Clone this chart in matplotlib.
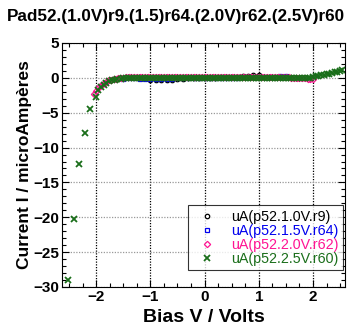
import matplotlib
matplotlib.use("Agg")
import matplotlib.pyplot as plt
from matplotlib.ticker import MultipleLocator

plt.rcParams['font.family'] = ['Liberation Sans', 'DejaVu Sans']

title = "Pad52.(1.0V)r9.(1.5)r64.(2.0V)r62.(2.5V)r60"

# r9 sweep, 1.0 V
v_r9 = [-1.0, -0.9, -0.8, -0.7, -0.6, -0.5, -0.4, -0.3, -0.2, -0.1, 0.0,
        0.1, 0.2, 0.3, 0.4, 0.5, 0.6, 0.7, 0.8, 0.9, 1.0]
i_r9 = [-0.25, -0.3, -0.3, -0.28, -0.25, -0.2, -0.1, -0.05, 0.0, 0.0, 0.0,
        0.05, 0.05, 0.1, 0.1, 0.1, 0.15, 0.2, 0.3, 0.4, 0.45]

# r64 sweep, 1.5 V
v_r64 = [-1.5, -1.4, -1.3, -1.2, -1.1, -1.0, -0.9, -0.8, -0.7, -0.6, -0.5,
         -0.4, -0.3, -0.2, -0.1, 0.0, 0.1, 0.2, 0.3, 0.4, 0.5, 0.6, 0.7,
         0.8, 0.9, 1.0, 1.1, 1.2, 1.3, 1.4, 1.5]
i_r64 = [-0.1, -0.05, -0.05, -0.1, -0.15, -0.2, -0.2, -0.15, -0.1, -0.1, -0.05,
         0.0, 0.0, 0.0, 0.0, 0.0, 0.0, 0.0, 0.05, 0.05, 0.05, 0.05, 0.1,
         0.1, 0.1, 0.1, 0.1, 0.15, 0.15, 0.2, 0.2]

# r62 sweep, 2.0 V
v_r62 = [-2.04, -2.0, -1.96, -1.92, -1.88, -1.84, -1.8, -1.76, -1.72, -1.68,
         -1.64, -1.6, -1.55, -1.5, -1.45, -1.4, -1.35, -1.3, -1.25, -1.2,
         -1.15, -1.1, -1.05, -1.0, -0.95, -0.9, -0.85, -0.8, -0.75, -0.7,
         -0.65, -0.6, -0.55, -0.5, -0.45, -0.4, -0.35, -0.3, -0.25, -0.2,
         -0.15, -0.1, -0.05, 0.0, 0.05, 0.1, 0.15, 0.2, 0.25, 0.3, 0.35,
         0.4, 0.45, 0.5, 0.55, 0.6, 0.65, 0.7, 0.75, 0.8, 0.85, 0.9, 0.95,
         1.0, 1.05, 1.1, 1.15, 1.2, 1.25, 1.3, 1.35, 1.4, 1.45, 1.5, 1.55,
         1.6, 1.65, 1.7, 1.75, 1.8, 1.85, 1.9, 1.95, 2.0]
i_r62 = [-2.3, -1.9, -1.5, -1.2, -0.9, -0.7, -0.5, -0.35, -0.25, -0.15,
         -0.1, -0.05, 0.0, 0.05, 0.1, 0.1, 0.1, 0.1, 0.1, 0.1,
         0.1, 0.1, 0.1, 0.1, 0.1, 0.1, 0.1, 0.1, 0.1, 0.1,
         0.1, 0.1, 0.1, 0.1, 0.1, 0.1, 0.1, 0.1, 0.1, 0.1,
         0.1, 0.1, 0.1, 0.1, 0.1, 0.1, 0.1, 0.1, 0.1, 0.1, 0.1,
         0.1, 0.1, 0.1, 0.1, 0.1, 0.1, 0.1, 0.1, 0.1, 0.1, 0.1, 0.1,
         0.1, 0.1, 0.1, 0.1, 0.1, 0.1, 0.1, 0.1, 0.1, 0.1, 0.1, 0.1,
         0.05, 0.05, 0.05, 0.0, 0.0, -0.05, -0.1, -0.1, -0.15]

# r60 sweep, 2.5 V
v_r60 = [-2.52, -2.41, -2.31, -2.21, -2.11, -2.01, -1.96, -1.91, -1.86,
         -1.81, -1.76, -1.71, -1.66, -1.61, -1.55, -1.5, -1.45, -1.4, -1.35,
         -1.3, -1.25, -1.2, -1.15, -1.1, -1.05, -1.0, -0.95, -0.9, -0.85,
         -0.8, -0.75, -0.7, -0.65, -0.6, -0.55, -0.5, -0.45, -0.4, -0.35,
         -0.3, -0.25, -0.2, -0.15, -0.1, -0.05, 0.0, 0.05, 0.1, 0.15, 0.2,
         0.25, 0.3, 0.35, 0.4, 0.45, 0.5, 0.55, 0.6, 0.65, 0.7, 0.75, 0.8,
         0.85, 0.9, 0.95, 1.0, 1.05, 1.1, 1.15, 1.2, 1.25, 1.3, 1.35, 1.4,
         1.45, 1.5, 1.55, 1.6, 1.65, 1.7, 1.75, 1.8, 1.85, 1.9, 1.95, 2.0,
         2.05, 2.1, 2.15, 2.2, 2.25, 2.3, 2.35, 2.4, 2.45, 2.5, 2.53]
i_r60 = [-29.0, -20.2, -12.3, -7.9, -4.5, -2.7, -1.8, -1.3, -1.0,
         -0.7, -0.5, -0.35, -0.25, -0.15, -0.1, -0.05, 0.0, 0.0, 0.0,
         0.0, 0.0, 0.0, 0.0, 0.0, 0.0, 0.0, 0.0, 0.0, 0.0,
         0.0, 0.0, 0.0, 0.0, 0.0, 0.0, 0.0, 0.0, 0.0, 0.0,
         0.0, 0.0, 0.0, 0.0, 0.0, 0.0, 0.0, 0.0, 0.0, 0.0, 0.0,
         0.0, 0.0, 0.0, 0.0, 0.0, 0.0, 0.0, 0.0, 0.0, 0.0, 0.0, 0.0,
         0.0, 0.0, 0.0, 0.0, 0.0, 0.0, 0.0, 0.0, 0.0, 0.0, 0.0, 0.0,
         0.0, 0.0, 0.0, 0.0, 0.0, 0.0, 0.0, 0.0, 0.0, 0.0, 0.05, 0.1,
         0.2, 0.3, 0.35, 0.45, 0.5, 0.6, 0.7, 0.8, 0.9, 1.0, 1.1]

series = [
    (v_r9, i_r9, 'o', 'black', 'uA(p52.1.0V.r9)'),
    (v_r64, i_r64, 's', '#0000ee', 'uA(p52.1.5V.r64)'),
    (v_r62, i_r62, 'D', '#ff1493', 'uA(p52.2.0V.r62)'),
    (v_r60, i_r60, 'x', '#1a6e1a', 'uA(p52.2.5V.r60)'),
]

fig = plt.figure(figsize=(3.51, 3.31), dpi=100)
ax = fig.add_axes([62 / 351, 1 - 287 / 331, 283 / 351, 244 / 331])

for v, i, m, c, lab in series:
    if m == 'x':
        ax.plot(v, i, linestyle='none', marker=m, color=c, markersize=4,
                markeredgewidth=1.3, label=lab)
    else:
        ax.plot(v, i, linestyle='none', marker=m, markerfacecolor='none',
                markeredgecolor=c, markersize=3.2, markeredgewidth=0.9, label=lab)

ax.set_xlim(-2.63, 2.59)
ax.set_ylim(-30, 5)
ax.xaxis.set_major_locator(MultipleLocator(1))
ax.xaxis.set_minor_locator(MultipleLocator(0.25))
ax.yaxis.set_major_locator(MultipleLocator(5))
ax.yaxis.set_minor_locator(MultipleLocator(1))
ax.tick_params(which='both', direction='in', top=True, right=True, width=0.8)
ax.tick_params(which='major', length=5, labelsize=11, pad=2)
ax.tick_params(which='minor', length=3)
for lbl in ax.get_xticklabels() + ax.get_yticklabels():
    lbl.set_fontweight('bold')

ax.grid(True, axis='x', which='major', color='black', linestyle=(0, (1, 1.2)), linewidth=0.9)
ax.grid(True, axis='y', which='major', color='#999999', linestyle=(0, (1, 1.2)), linewidth=0.9)

ax.set_xlabel('Bias V / Volts', fontsize=14, fontweight='bold', labelpad=4)
ax.set_ylabel('Current I / microAmpères', fontsize=12.5, fontweight='bold', labelpad=1)
fig.text(0.5, 1 - 17 / 331, title, ha='center', va='center', fontsize=12.3, fontweight='bold')

leg = ax.legend(loc='lower right', bbox_to_anchor=(0.993, 17 / 244), fontsize=10.3,
                frameon=True, fancybox=False, edgecolor='black', handletextpad=0.7,
                borderpad=0.3, labelspacing=0.0, handlelength=2.0, borderaxespad=0.0)
leg.get_frame().set_linewidth(0.8)
for txt, s in zip(leg.get_texts(), series):
    txt.set_color(s[3])

fig.savefig('out.png', dpi=100)
